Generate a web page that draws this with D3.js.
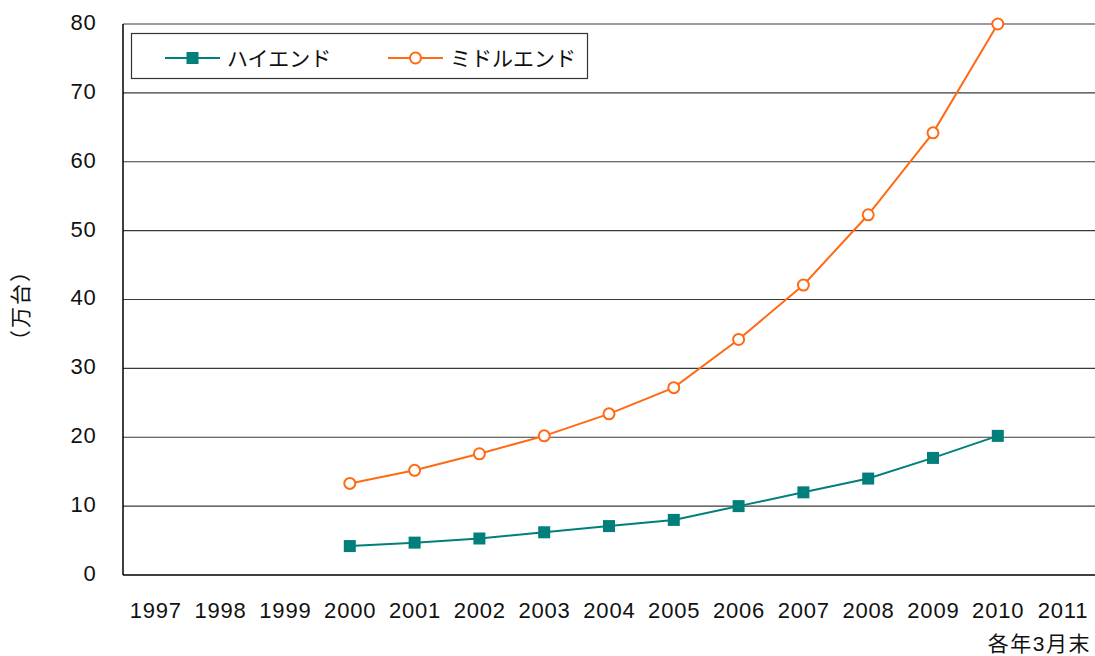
<!DOCTYPE html>
<html>
<head>
<meta charset="utf-8">
<script src="https://cdn.jsdelivr.net/npm/d3@7"></script>
<style>
  body { margin: 0; background: #fff; }
  text { font-family: "Liberation Sans", Arial, "Noto Sans CJK JP", sans-serif; fill: #111; }
</style>
</head>
<body>
<div id="chart"></div>
<script>
// Data
const years = ['1997','1998','1999','2000','2001','2002','2003','2004','2005','2006','2007','2008','2009','2010','2011']
const dataYears = ['2000','2001','2002','2003','2004','2005','2006','2007','2008','2009','2010']
const highEnd = [4.2, 4.7, 5.3, 6.2, 7.1, 8.0, 10.0, 12.0, 14.0, 17.0, 20.2]
const midEnd = [13.3, 15.2, 17.6, 20.2, 23.4, 27.2, 34.2, 42.1, 52.3, 64.2, 80.0]
const yTicks = [0, 10, 20, 30, 40, 50, 60, 70, 80]
const seriesNames = ['ハイエンド', 'ミドルエンド']

// Dimensions
const dimensions = {
  width: 1095,
  height: 656,
  left: 123,
  right: 1095,
  top: 24,
  bottom: 575,
}

const svg = d3.select('#chart')
  .append('svg')
  .attr('width', dimensions.width)
  .attr('height', dimensions.height)

const xScale = d3.scaleBand()
  .domain(years)
  .range([dimensions.left, dimensions.right])

const yScale = d3.scaleLinear()
  .domain([0, 80])
  .range([dimensions.bottom, dimensions.top])

// gridlines
svg.append('g')
  .selectAll('line')
  .data(yTicks.filter(d => d > 0))
  .join('line')
  .attr('x1', dimensions.left)
  .attr('x2', dimensions.right)
  .attr('y1', d => yScale(d))
  .attr('y2', d => yScale(d))
  .attr('stroke', '#3a3a3a')
  .attr('stroke-width', 1.2)

// axes
svg.append('line')
  .attr('x1', dimensions.left).attr('x2', dimensions.left)
  .attr('y1', dimensions.top).attr('y2', dimensions.bottom)
  .attr('stroke', '#000').attr('stroke-width', 1.5)
svg.append('line')
  .attr('x1', dimensions.left).attr('x2', dimensions.right)
  .attr('y1', dimensions.bottom).attr('y2', dimensions.bottom)
  .attr('stroke', '#000').attr('stroke-width', 1.5)

// y tick labels
svg.append('g')
  .selectAll('text')
  .data(yTicks)
  .join('text')
  .attr('x', 96.5)
  .attr('y', d => yScale(d) - 2)
  .attr('dy', '0.36em')
  .attr('text-anchor', 'end')
  .attr('font-size', 22)
  .attr('letter-spacing', 0.8)
  .text(d => d)

// x tick labels
svg.append('g')
  .selectAll('text')
  .data(years)
  .join('text')
  .attr('x', d => xScale(d) + xScale.bandwidth() / 2 + 0.4)
  .attr('y', 618)
  .attr('text-anchor', 'middle')
  .attr('font-size', 22)
  .attr('letter-spacing', 0.8)
  .text(d => d)

svg.append('text')
  .attr('x', 1091)
  .attr('y', 651)
  .attr('text-anchor', 'end')
  .attr('font-size', 21)
  .attr('letter-spacing', 1.5)
  .text('各年3月末')

svg.append('text')
  .attr('transform', 'translate(28, 305) rotate(-90)')
  .attr('text-anchor', 'middle')
  .attr('font-size', 21)
  .attr('letter-spacing', 2)
  .text('（万台）')

// series
const cx = d => xScale(d) + xScale.bandwidth() / 2
const line = d3.line()
  .x((d, i) => cx(dataYears[i]))
  .y(d => yScale(d))

const teal = '#007f7b'
const orange = '#ff6a13'

svg.append('path')
  .datum(highEnd)
  .attr('d', line)
  .attr('fill', 'none')
  .attr('stroke', teal)
  .attr('stroke-width', 2)

svg.append('g')
  .selectAll('rect')
  .data(highEnd)
  .join('rect')
  .attr('x', (d, i) => cx(dataYears[i]) - 6)
  .attr('y', d => yScale(d) - 6)
  .attr('width', 12)
  .attr('height', 12)
  .attr('fill', teal)

svg.append('path')
  .datum(midEnd)
  .attr('d', line)
  .attr('fill', 'none')
  .attr('stroke', orange)
  .attr('stroke-width', 2)

svg.append('g')
  .selectAll('circle')
  .data(midEnd)
  .join('circle')
  .attr('cx', (d, i) => cx(dataYears[i]))
  .attr('cy', d => yScale(d))
  .attr('r', 5.5)
  .attr('fill', '#fff')
  .attr('stroke', orange)
  .attr('stroke-width', 2)

// legend
const legend = svg.append('g')
legend.append('rect')
  .attr('x', 131.5).attr('y', 33.5)
  .attr('width', 456).attr('height', 45)
  .attr('fill', '#fff')
  .attr('stroke', '#333')
  .attr('stroke-width', 1.2)

const legendItems = [
  { name: seriesNames[0], color: teal, x: 165, shape: 'rect' },
  { name: seriesNames[1], color: orange, x: 388, shape: 'circle' },
]

legendItems.forEach(item => {
  const g = legend.append('g').attr('transform', `translate(${item.x}, 58)`)
  g.append('line')
    .attr('x1', 0).attr('x2', 55)
    .attr('stroke', item.color).attr('stroke-width', 2)
  if (item.shape === 'rect') {
    g.append('rect').attr('x', 21.5).attr('y', -6).attr('width', 12).attr('height', 12).attr('fill', item.color)
  } else {
    g.append('circle').attr('cx', 27.5).attr('r', 5.5).attr('fill', '#fff').attr('stroke', item.color).attr('stroke-width', 2)
  }
  g.append('text')
    .attr('x', 62)
    .attr('dy', '0.36em')
    .attr('font-size', 21)
    .text(item.name)
})
</script>
</body>
</html>
